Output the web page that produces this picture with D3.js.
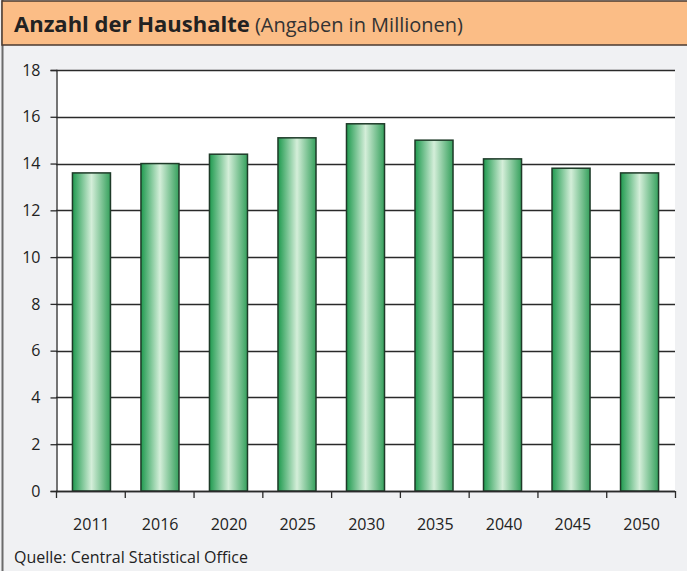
<!DOCTYPE html>
<html><head><meta charset="utf-8">
<script src="https://cdn.jsdelivr.net/npm/d3@7"></script>
<style>
html,body{margin:0;padding:0;background:#f0f1f3;}
svg{display:block;}
text{font-family:"Liberation Sans Narrow","Open Sans","DejaVu Sans Condensed",sans-serif;}
</style></head>
<body>
<svg id="c" width="687" height="571"></svg>
<script>
const categories = ["2011","2016","2020","2025","2030","2035","2040","2045","2050"];
const values = [13.6, 14.0, 14.4, 15.1, 15.7, 15.0, 14.2, 13.8, 13.6];
const yTicks = [0,2,4,6,8,10,12,14,16,18];
const titleBold = "Anzahl der Haushalte";
const titleNormal = " (Angaben in Millionen)";
const source = "Quelle: Central Statistical Office";

const svg = d3.select("#c");
const W = 687, H = 571;
const m = {left:56, right:675, top:70, bottom:491};

svg.append("rect").attr("x",0).attr("y",0).attr("width",W).attr("height",H).attr("fill","#f0f1f3");
svg.append("line").attr("x1",2.5).attr("x2",2.5).attr("y1",0).attr("y2",H).attr("stroke","#6b6b6b").attr("stroke-width",2);

svg.append("rect").attr("x",2).attr("y",1).attr("width",W).attr("height",44)
  .attr("fill","#fbbd86").attr("stroke","#4a3a30").attr("stroke-width",1.5);
const t = svg.append("text").attr("x",14).attr("y",32).attr("font-size",22).attr("fill","#222");
t.append("tspan").attr("font-weight","bold").text(titleBold);
t.append("tspan").attr("font-size",20).attr("fill","#333").text(titleNormal);

const defs = svg.append("defs");
const g = defs.append("linearGradient").attr("id","barg").attr("x1","0%").attr("x2","100%").attr("y1","0%").attr("y2","0%");
g.append("stop").attr("offset","0%").attr("stop-color","#1f9a4f");
g.append("stop").attr("offset","50%").attr("stop-color","#d4eed9");
g.append("stop").attr("offset","100%").attr("stop-color","#35a05c");

const x = d3.scaleBand().domain(categories).range([m.left, m.right]).paddingInner(0.445).paddingOuter(0.24);
const xb = d3.scaleBand().domain(categories).range([m.left, m.right]);
const y = d3.scaleLinear().domain([0,18]).range([m.bottom, m.top]);

svg.append("rect").attr("x",m.left).attr("y",m.top).attr("width",m.right-m.left).attr("height",m.bottom-m.top).attr("fill","#fff");

svg.append("g").selectAll("line").data(yTicks).join("line")
  .attr("x1",m.left).attr("x2",m.right).attr("y1",d=>Math.round(y(d))+0.5).attr("y2",d=>Math.round(y(d))+0.5)
  .attr("stroke","#2a2a2a").attr("stroke-width",1.3);

const ya = svg.append("g").attr("transform",`translate(${m.left+0.5},0)`)
  .call(d3.axisLeft(y).tickValues(yTicks).tickSize(6).tickPadding(10).tickFormat(d3.format("d")));
ya.select(".domain").attr("stroke","#2a2a2a").attr("stroke-width",1.3);
ya.selectAll(".tick line").attr("stroke","#2a2a2a").attr("stroke-width",1.3);
ya.selectAll("text").attr("font-size",16).attr("fill","#222").style("font-family","'Liberation Sans Narrow','Open Sans',sans-serif");

svg.append("g").selectAll("rect").data(values).join("rect")
  .attr("x",(d,i)=>x(categories[i]))
  .attr("width",x.bandwidth())
  .attr("y",d=>y(d))
  .attr("height",d=>y(0)-y(d))
  .attr("fill","url(#barg)").attr("stroke","#1e3a28").attr("stroke-width",1.5);

const boundaries = categories.map(c=>xb(c)).concat([m.right]);
const xa = svg.append("g");
xa.append("line").attr("x1",m.left).attr("x2",m.right).attr("y1",m.bottom+0.5).attr("y2",m.bottom+0.5).attr("stroke","#2a2a2a").attr("stroke-width",1.3);
xa.selectAll("line.tk").data(boundaries).join("line").attr("class","tk")
  .attr("x1",d=>d+0.5).attr("x2",d=>d+0.5).attr("y1",m.bottom).attr("y2",m.bottom+7).attr("stroke","#2a2a2a").attr("stroke-width",1.3);
xa.selectAll("text").data(categories).join("text")
  .attr("x",d=>xb(d)+xb.bandwidth()/2+1).attr("y",530).attr("text-anchor","middle")
  .attr("font-size",16).attr("fill","#222").text(d=>d);

svg.append("text").attr("x",14).attr("y",563).attr("font-size",16).attr("fill","#222").text(source);
</script>
</body></html>
